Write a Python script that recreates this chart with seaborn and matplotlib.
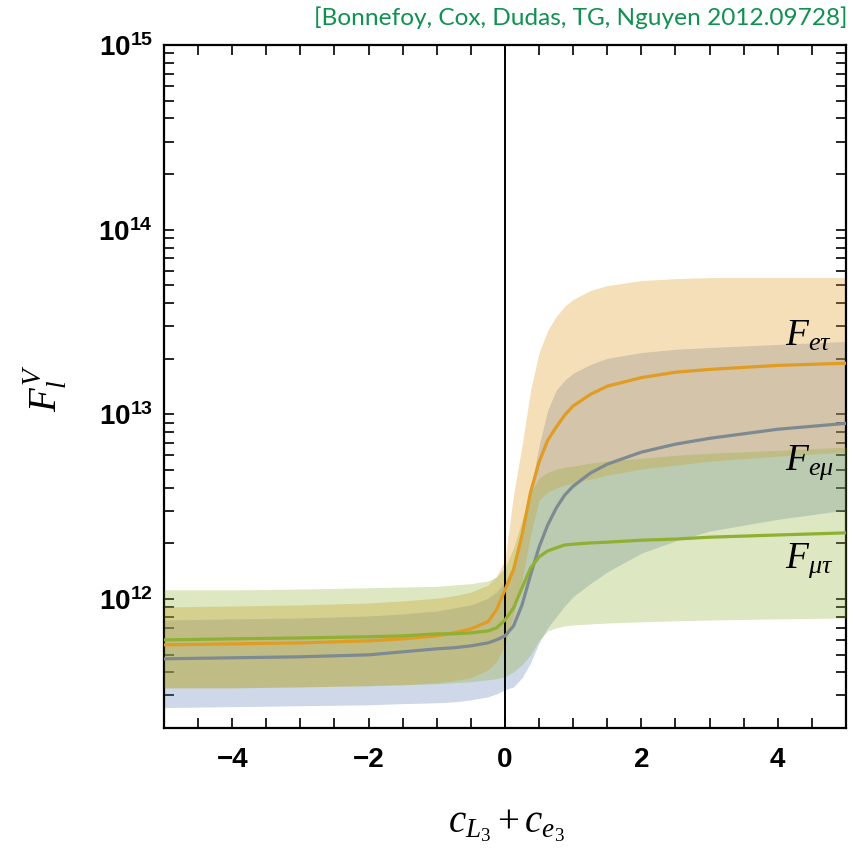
import numpy as np
import pandas as pd
import matplotlib
matplotlib.use("Agg")
import matplotlib.pyplot as plt
import seaborn as sns
from matplotlib.ticker import MultipleLocator, LogLocator, NullFormatter, FuncFormatter

# ---------------- data ----------------
x = [-5, -4, -3, -2, -1.5, -1, -0.75, -0.5, -0.25, -0.125, 0, 0.125, 0.25, 0.375, 0.5,
     0.625, 0.75, 0.875, 1, 1.25, 1.5, 2, 2.5, 3, 4, 5]

# central curves
f_etau = [5.64e11, 5.71e11, 5.78e11, 5.93e11, 6.08e11, 6.31e11, 6.55e11, 6.89e11, 7.52e11,
          8.73e11, 1.12e12, 1.44e12, 2.22e12, 3.79e12, 5.51e12, 7.23e12, 8.51e12, 9.89e12,
          1.11e13, 1.28e13, 1.42e13, 1.58e13, 1.69e13, 1.75e13, 1.84e13, 1.89e13]
f_emu = [4.74e11, 4.80e11, 4.86e11, 4.98e11, 5.17e11, 5.37e11, 5.44e11, 5.57e11, 5.78e11,
         6.0e11, 6.31e11, 7.14e11, 9.29e11, 1.35e12, 1.91e12, 2.51e12, 3.10e12, 3.65e12,
         4.08e12, 4.80e12, 5.37e12, 6.24e12, 6.89e12, 7.41e12, 8.30e12, 8.93e12]
f_mutau = [6.0e11, 6.08e11, 6.15e11, 6.24e11, 6.31e11, 6.47e11, 6.47e11, 6.55e11, 6.71e11,
           6.97e11, 7.69e11, 8.93e11, 1.15e12, 1.47e12, 1.69e12, 1.82e12, 1.89e12, 1.96e12,
           1.98e12, 2.01e12, 2.03e12, 2.08e12, 2.11e12, 2.16e12, 2.22e12, 2.28e12]

# bands
etau_hi = [9.06e11, 9.16e11, 9.29e11, 9.51e11, 9.75e11, 1.01e12, 1.04e12, 1.09e12, 1.19e12,
           1.32e12, 1.63e12, 3.65e12, 6.79e12, 1.35e13, 2.16e13, 2.84e13, 3.39e13, 3.84e13,
           4.19e13, 4.68e13, 4.98e13, 5.30e13, 5.43e13, 5.50e13, 5.50e13, 5.50e13]
etau_lo = [3.30e11, 3.30e11, 3.34e11, 3.39e11, 3.43e11, 3.52e11, 3.61e11, 3.74e11, 4.13e11,
           4.56e11, 5.64e11, 8.20e11, 1.27e12, 2.22e12, 3.43e12, 3.79e12, 3.98e12, 4.13e12,
           4.24e12, 4.46e12, 4.68e12, 5.05e12, 5.30e12, 5.57e12, 5.93e12, 6.24e12]
emu_hi = [7.69e11, 7.80e11, 7.89e11, 8.09e11, 8.30e11, 8.61e11, 8.93e11, 9.29e11, 1.01e12,
          1.09e12, 1.24e12, 1.53e12, 2.22e12, 3.88e12, 6.79e12, 1.05e13, 1.35e13, 1.53e13,
          1.67e13, 1.86e13, 2.01e13, 2.16e13, 2.25e13, 2.30e13, 2.39e13, 2.48e13]
emu_lo = [2.58e11, 2.61e11, 2.64e11, 2.67e11, 2.71e11, 2.74e11, 2.77e11, 2.84e11, 2.95e11,
          3.06e11, 3.22e11, 3.34e11, 3.74e11, 4.51e11, 5.78e11, 6.97e11, 8.0e11, 9.16e11,
          1.03e12, 1.21e12, 1.40e12, 1.77e12, 2.06e12, 2.33e12, 2.70e12, 3.03e12]
mutau_hi = [1.12e12, 1.12e12, 1.13e12, 1.15e12, 1.16e12, 1.17e12, 1.19e12, 1.21e12, 1.25e12,
            1.32e12, 1.47e12, 1.89e12, 2.67e12, 3.79e12, 4.51e12, 4.85e12, 5.05e12, 5.17e12,
            5.24e12, 5.44e12, 5.57e12, 5.78e12, 6.0e12, 6.15e12, 6.38e12, 6.64e12]
mutau_lo = [3.30e11, 3.30e11, 3.34e11, 3.39e11, 3.43e11, 3.47e11, 3.52e11, 3.56e11, 3.65e11,
            3.70e11, 3.79e11, 4.03e11, 4.40e11, 4.98e11, 6.0e11, 6.71e11, 6.97e11, 7.14e11,
            7.23e11, 7.32e11, 7.41e11, 7.52e11, 7.61e11, 7.69e11, 7.80e11, 7.89e11]

series_names = ["F_emu", "F_etau", "F_mutau"]
curve_labels = [r"$F_{e\tau}$", r"$F_{e\mu}$", r"$F_{\mu\tau}$"]
label_x = [4.1, 4.1, 4.1]
label_y = [2.67e13, 5.5e12, 1.62e12]
x_ticks = [-4, -2, 0, 2, 4]
citation = "[Bonnefoy, Cox, Dudas, TG, Nguyen 2012.09728]"

# ---------------- style ----------------
sns.set_style("ticks")
plt.rcParams.update({
    "font.family": ["Liberation Sans", "DejaVu Sans"],
    "mathtext.fontset": "custom",
    "mathtext.rm": "Liberation Serif",
    "mathtext.it": "Liberation Serif:italic",
    "mathtext.bf": "Liberation Sans:bold",
    "xtick.color": "black",
    "ytick.color": "black",
    "xtick.labelcolor": "black",
    "ytick.labelcolor": "black",
    "text.color": "black",
})

c_orange = "#E19C24"
c_blue = "#5E81B5"
c_green = "#8FB032"
c_gray = "#7D8A92"

fig = plt.figure(figsize=(8.54, 8.50), dpi=100)
ax = fig.add_axes([164 / 854, 122 / 850, 682 / 854, 683 / 850])

# bands
ax.fill_between(x, emu_lo, emu_hi, color=c_blue, alpha=0.3, lw=0, zorder=1)
ax.fill_between(x, etau_lo, etau_hi, color=c_orange, alpha=0.32, lw=0, zorder=2)
ax.fill_between(x, mutau_lo, mutau_hi, color=c_green, alpha=0.3, lw=0, zorder=3)

ax.axvline(0, color="black", lw=1.4, zorder=4)

df = pd.DataFrame({
    "x": x * 3,
    "value": f_emu + f_etau + f_mutau,
    "series": [series_names[0]] * len(x) + [series_names[1]] * len(x) + [series_names[2]] * len(x),
})
sns.lineplot(data=df, x="x", y="value", hue="series",
             palette={"F_emu": c_gray, "F_etau": c_orange, "F_mutau": c_green},
             hue_order=series_names, lw=2.3, legend=False, ax=ax, zorder=5, sort=True,
             estimator=None)

for lab, lx, ly in zip(curve_labels, label_x, label_y):
    ax.text(lx, ly, lab, fontsize=27, ha="left", va="center", color="black",
            fontweight="normal", zorder=6)

ax.set_yscale("log")
ax.set_xlim(-5, 5)
ax.set_ylim(2.0e11, 1e15)

ax.xaxis.set_minor_locator(MultipleLocator(0.5))
ax.set_xticks(x_ticks)
ax.xaxis.set_major_formatter(FuncFormatter(
    lambda v, p: ("\u2212%d" % abs(round(v))) if v < 0 else "%d" % round(v)))
ax.yaxis.set_major_locator(LogLocator(base=10, numticks=12))
ax.yaxis.set_minor_locator(LogLocator(base=10, subs=np.arange(2, 10), numticks=12))
ax.yaxis.set_major_formatter(FuncFormatter(lambda v, p: r"$\mathbf{10^{%d}}$" % round(np.log10(v))))
ax.yaxis.set_minor_formatter(NullFormatter())

ax.tick_params(axis="both", which="both", direction="in", top=True, right=True,
               length=7, width=1.2, color="black", labelcolor="black")
ax.tick_params(axis="x", which="major", labelsize=20, pad=14)
ax.tick_params(axis="y", which="major", labelsize=20, pad=8)
for lab in ax.get_xticklabels():
    lab.set_fontweight("bold")

for s in ax.spines.values():
    s.set_linewidth(1.6)
    s.set_color("black")

ax.set_xlabel("")
ax.set_ylabel("")
fig.text(45 / 854, 1 - 388 / 850, r"$F_l^V$", rotation=90, ha="center", va="center",
         fontsize=28, fontweight="normal")
fig.text(506 / 854, 1 - 826 / 850, r"$c_{L_3}+c_{e_3}$", ha="center", va="center",
         fontsize=28, fontweight="normal")
fig.text(848 / 854, 1 - 18 / 850, citation, ha="right", va="center", color="#0f9150",
         fontsize=17.6, family="Lato", weight="normal")

fig.savefig("out.png", dpi=100)
